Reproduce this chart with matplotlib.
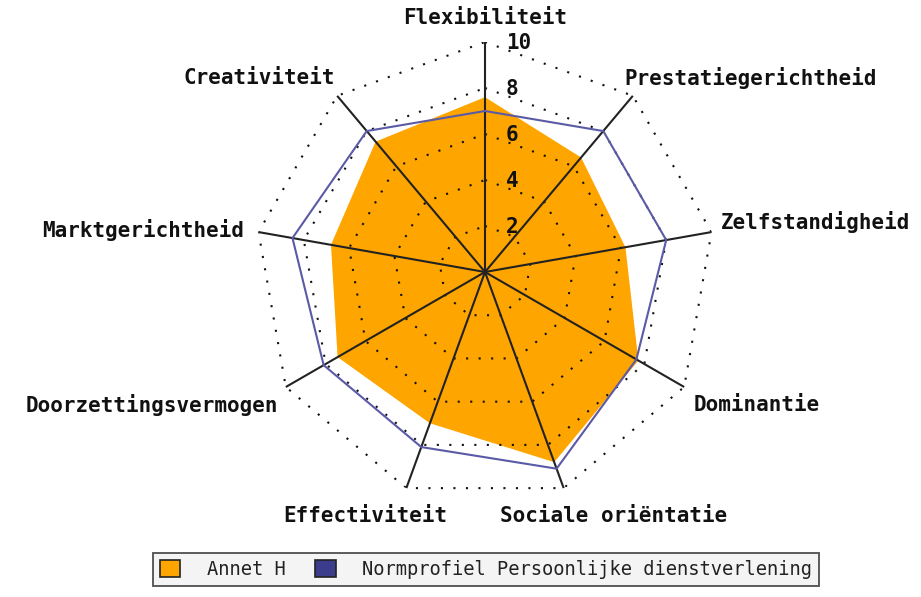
# radar chart: Annet H vs normprofiel
import matplotlib
matplotlib.use("Agg")
import matplotlib.pyplot as plt
from matplotlib.patches import Patch
import numpy as np

categories = ['Flexibiliteit', 'Prestatiegerichtheid', 'Zelfstandigheid', 'Dominantie',
              'Sociale oriëntatie', 'Effectiviteit', 'Doorzettingsvermogen',
              'Marktgerichtheid', 'Creativiteit']
annet = [7.6, 6.5, 6.2, 7.7, 8.8, 7.0, 7.4, 6.8, 7.4]
norm = [7.0, 8.0, 8.0, 7.6, 9.1, 8.1, 8.1, 8.5, 8.0]
rings = [2, 4, 6, 8, 10]
series_names = ['Annet H', 'Normprofiel Persoonlijke dienstverlening']

ORANGE = '#FFA500'
BLUE = '#5a5aa6'
FONT = 'DejaVu Sans Mono'

W, H = 921, 597
fig = plt.figure(figsize=(W / 100, H / 100), dpi=100)
cx, cy, R = 485, 272, 230
ax = fig.add_axes([(cx - R) / W, (H - cy - R) / H, 2 * R / W, 2 * R / H], projection='polar')
ax.set_theta_offset(np.pi / 2)
ax.set_theta_direction(-1)
ax.set_ylim(0, 10)
ax.axis('off')

n = len(categories)
theta = np.arange(n) * 2 * np.pi / n
th_closed = np.append(theta, theta[0])

# orange area
ax.fill(th_closed, annet + annet[:1], color=ORANGE, lw=0, zorder=1)

# dotted rings
for r in rings:
    ax.plot(th_closed, [r] * (n + 1), color='#111111', lw=1.5,
            linestyle=(0, (1, 5)), zorder=2)

# spokes
for t in theta:
    ax.plot([t, t], [0, 10], color='#222222', lw=1.5, zorder=3)

# norm line
ax.plot(th_closed, norm + norm[:1], color=BLUE, lw=1.5, zorder=4)

# scale labels on top spoke
for r in rings:
    ax.annotate(str(r), xy=(0, r), xytext=(21, -1), textcoords='offset pixels',
                ha='left', va='center', fontsize=15, family=FONT,
                fontweight='bold', color='#111111', zorder=5)

# category labels
offsets = [(0, 24, 'center'), (-8, 18, 'left'), (9, 10, 'left'), (9, -18, 'left'),
           (-64, -28, 'left'), (41, -28, 'right'), (-8, -18, 'right'),
           (-14, 2, 'right'), (-2, 18, 'right')]
for t, lab, (dx, dy, ha) in zip(theta, categories, offsets):
    ax.annotate(lab, xy=(t, 10), xytext=(dx, dy), textcoords='offset pixels',
                ha=ha, va='center', fontsize=15, family=FONT,
                fontweight='bold', color='#111111', annotation_clip=False)

handles = [Patch(facecolor=ORANGE, edgecolor='#222222', lw=1.2),
           Patch(facecolor='#3c3c8c', edgecolor='#222222', lw=1.2)]
leg = fig.legend(handles, series_names, ncol=2, loc='lower center',
                 bbox_to_anchor=(486 / W, 2 / H), frameon=True, fancybox=False,
                 handlelength=1.1, handleheight=1.05, handletextpad=1.4,
                 columnspacing=1.6, borderpad=0.35,
                 prop={'family': FONT, 'size': 13.5})
leg.get_frame().set_edgecolor('#333333')
leg.get_frame().set_facecolor('#f2f2f2')
leg.get_frame().set_linewidth(1.4)
for txt in leg.get_texts():
    txt.set_color('#222222')

fig.savefig('out.png', dpi=100, facecolor='white')
